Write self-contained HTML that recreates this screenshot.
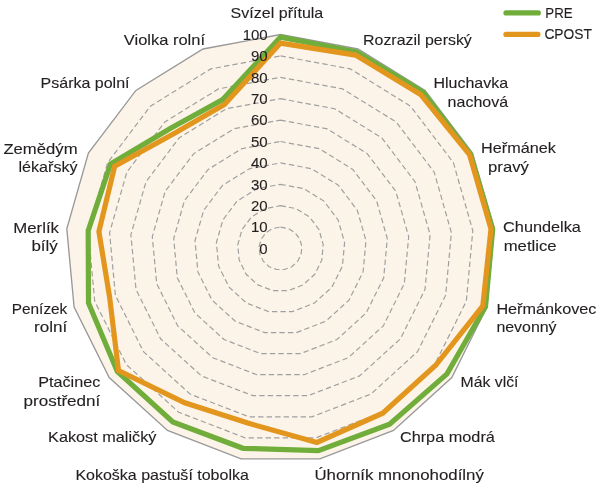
<!DOCTYPE html>
<html lang="cs">
<head>
<meta charset="utf-8">
<title>PRE / CPOST</title>
<style>
html,body{margin:0;padding:0;background:#fff;}
body{width:600px;height:489px;overflow:hidden;}
svg{display:block;}
text{font-family:"Liberation Sans",sans-serif;font-size:15px;fill:#231f20;stroke:#231f20;stroke-width:0.12px;}
</style>
</head>
<body>
<svg width="600" height="489" viewBox="0 0 600 489">
<rect width="600" height="489" fill="#ffffff"/>
<polygon points="280.5,34.5 358.0,49.0 425.1,90.4 472.6,153.1 494.2,228.8 486.9,307.1 451.8,377.5 393.5,430.4 319.9,458.9 241.1,458.9 167.5,430.4 109.2,377.5 74.1,307.1 66.8,228.8 88.4,153.1 135.9,90.4 203.0,49.0" fill="#fcf4e8" stroke="#999999" stroke-width="1.35" stroke-linejoin="miter"/>
<polygon points="280.5,227.1 288.3,228.5 295.0,232.7 299.7,239.0 301.9,246.5 301.1,254.4 297.6,261.4 291.8,266.7 284.4,269.5 276.6,269.5 269.2,266.7 263.4,261.4 259.9,254.4 259.1,246.5 261.3,239.0 266.0,232.7 272.7,228.5" fill="none" stroke="#a0a0a0" stroke-width="1.2" stroke-dasharray="5.4 3.1"/>
<polygon points="280.5,205.7 296.0,208.6 309.4,216.9 318.9,229.4 323.2,244.6 321.8,260.2 314.8,274.3 303.1,284.9 288.4,290.6 272.6,290.6 257.9,284.9 246.2,274.3 239.2,260.2 237.8,244.6 242.1,229.4 251.6,216.9 265.0,208.6" fill="none" stroke="#a0a0a0" stroke-width="1.2" stroke-dasharray="5.4 3.1"/>
<polygon points="280.5,184.3 303.8,188.6 323.9,201.1 338.1,219.9 344.6,242.6 342.4,266.1 331.9,287.2 314.4,303.1 292.3,311.6 268.7,311.6 246.6,303.1 229.1,287.2 218.6,266.1 216.4,242.6 222.9,219.9 237.1,201.1 257.2,188.6" fill="none" stroke="#a0a0a0" stroke-width="1.2" stroke-dasharray="5.4 3.1"/>
<polygon points="280.5,162.9 311.5,168.7 338.3,185.2 357.3,210.3 366.0,240.6 363.1,271.9 349.0,300.1 325.7,321.3 296.3,332.6 264.7,332.6 235.3,321.3 212.0,300.1 197.9,271.9 195.0,240.6 203.7,210.3 222.7,185.2 249.5,168.7" fill="none" stroke="#a0a0a0" stroke-width="1.2" stroke-dasharray="5.4 3.1"/>
<polygon points="280.5,141.5 319.3,148.7 352.8,169.4 376.6,200.8 387.3,238.6 383.7,277.8 366.1,313.0 337.0,339.5 300.2,353.7 260.8,353.7 224.0,339.5 194.9,313.0 177.3,277.8 173.7,238.6 184.4,200.8 208.2,169.4 241.7,148.7" fill="none" stroke="#a0a0a0" stroke-width="1.2" stroke-dasharray="5.4 3.1"/>
<polygon points="280.5,120.1 327.0,128.8 367.2,153.6 395.8,191.3 408.7,236.7 404.3,283.6 383.3,325.9 348.3,357.7 304.2,374.7 256.8,374.7 212.7,357.7 177.7,325.9 156.7,283.6 152.3,236.7 165.2,191.3 193.8,153.6 234.0,128.8" fill="none" stroke="#a0a0a0" stroke-width="1.2" stroke-dasharray="5.4 3.1"/>
<polygon points="280.5,98.7 334.8,108.8 381.7,137.8 415.0,181.7 430.1,234.7 425.0,289.5 400.4,338.8 359.6,375.9 308.1,395.7 252.9,395.7 201.4,375.9 160.6,338.8 136.0,289.5 130.9,234.7 146.0,181.7 179.3,137.8 226.2,108.8" fill="none" stroke="#a0a0a0" stroke-width="1.2" stroke-dasharray="5.4 3.1"/>
<polygon points="280.5,77.3 342.5,88.9 396.2,122.0 434.2,172.2 451.4,232.7 445.6,295.4 417.5,351.7 370.9,394.1 312.0,416.8 249.0,416.8 190.1,394.1 143.5,351.7 115.4,295.4 109.6,232.7 126.8,172.2 164.8,122.0 218.5,88.9" fill="none" stroke="#a0a0a0" stroke-width="1.2" stroke-dasharray="5.4 3.1"/>
<polygon points="280.5,55.9 350.3,68.9 410.6,106.2 453.4,162.7 472.8,230.7 466.3,301.2 434.6,364.6 382.2,412.3 316.0,437.8 245.0,437.8 178.8,412.3 126.4,364.6 94.7,301.2 88.2,230.7 107.6,162.7 150.4,106.2 210.7,68.9" fill="none" stroke="#a0a0a0" stroke-width="1.2" stroke-dasharray="5.4 3.1"/>
<polygon points="280.5,37.1 356.9,51.9 423.3,92.2 470.3,154.3 492.7,228.9 485.5,306.7 447.0,373.9 389.6,424.3 318.4,450.7 243.0,448.3 172.8,421.9 117.3,371.4 88.5,303.0 88.2,230.7 110.5,164.1 170.6,128.3 222.7,99.6" fill="none" stroke="#70ad3b" stroke-width="5.2" stroke-linejoin="miter"/>
<polygon points="280.5,43.1 355.6,55.1 421.0,94.8 469.5,154.6 491.0,229.1 482.8,305.9 435.7,365.3 382.7,413.2 316.9,442.4 247.8,423.1 184.7,402.8 118.5,370.5 109.6,297.0 98.9,231.7 114.7,166.2 175.0,133.1 224.5,104.4" fill="none" stroke="#e2961e" stroke-width="5.2" stroke-linejoin="miter"/>
<g text-anchor="end" style="font-size:16.2px">
<text x="267.7" y="253.8">0</text>
<text x="267.7" y="232.4">10</text>
<text x="267.7" y="211.0">20</text>
<text x="267.7" y="189.6">30</text>
<text x="267.7" y="168.2">40</text>
<text x="267.7" y="146.8">50</text>
<text x="267.7" y="125.4">60</text>
<text x="267.7" y="104.0">70</text>
<text x="267.7" y="82.6">80</text>
<text x="267.7" y="61.2">90</text>
<text x="267.7" y="39.8">100</text>
</g>
<text x="230.6" y="17.5" textLength="92.7" lengthAdjust="spacingAndGlyphs">Svízel přítula</text>
<text x="363.1" y="45.0" textLength="108.7" lengthAdjust="spacingAndGlyphs">Rozrazil perský</text>
<text x="433.4" y="88.2" textLength="74.7" lengthAdjust="spacingAndGlyphs">Hluchavka</text>
<text x="447.6" y="107.0" textLength="60.5" lengthAdjust="spacingAndGlyphs">nachová</text>
<text x="481.1" y="153.0" textLength="74.8" lengthAdjust="spacingAndGlyphs">Heřmánek</text>
<text x="488.1" y="172.0" textLength="40.8" lengthAdjust="spacingAndGlyphs">pravý</text>
<text x="503.1" y="232.4" textLength="77.8" lengthAdjust="spacingAndGlyphs">Chundelka</text>
<text x="503.7" y="251.2" textLength="52.9" lengthAdjust="spacingAndGlyphs">metlice</text>
<text x="496.4" y="313.5" textLength="100.0" lengthAdjust="spacingAndGlyphs">Heřmánkovec</text>
<text x="496.4" y="332.2" textLength="60.2" lengthAdjust="spacingAndGlyphs">nevonný</text>
<text x="460.6" y="386.5" textLength="57.9" lengthAdjust="spacingAndGlyphs">Mák vlčí</text>
<text x="399.9" y="442.0" textLength="95.0" lengthAdjust="spacingAndGlyphs">Chrpa modrá</text>
<text x="314.4" y="479.9" textLength="169.5" lengthAdjust="spacingAndGlyphs">Úhorník mnonohodílný</text>
<text x="75.4" y="479.9" textLength="173.5" lengthAdjust="spacingAndGlyphs">Kokoška pastuší tobolka</text>
<text x="48.1" y="442.0" textLength="108.3" lengthAdjust="spacingAndGlyphs">Kakost maličký</text>
<text x="38.2" y="386.9" textLength="62.1" lengthAdjust="spacingAndGlyphs">Ptačinec</text>
<text x="23.5" y="405.9" textLength="76.8" lengthAdjust="spacingAndGlyphs">prostřední</text>
<text x="11.8" y="314.0" textLength="55.5" lengthAdjust="spacingAndGlyphs">Penízek</text>
<text x="34.1" y="332.4" textLength="33.2" lengthAdjust="spacingAndGlyphs">rolní</text>
<text x="13.3" y="232.6" textLength="45.7" lengthAdjust="spacingAndGlyphs">Merlík</text>
<text x="31.4" y="251.2" textLength="26.4" lengthAdjust="spacingAndGlyphs">bílý</text>
<text x="3.4" y="153.5" textLength="74.2" lengthAdjust="spacingAndGlyphs">Zemědým</text>
<text x="18.5" y="172.1" textLength="59.1" lengthAdjust="spacingAndGlyphs">lékařský</text>
<text x="40.6" y="87.9" textLength="88.9" lengthAdjust="spacingAndGlyphs">Psárka polní</text>
<text x="123.8" y="45.4" textLength="81.2" lengthAdjust="spacingAndGlyphs">Violka rolní</text>
<text x="545.3" y="17.8" textLength="27.3" lengthAdjust="spacingAndGlyphs" style="font-size:15.4px">PRE</text>
<text x="544.4" y="39.3" textLength="47.6" lengthAdjust="spacingAndGlyphs" style="font-size:15.4px">CPOST</text>
<line x1="505.9" y1="12.9" x2="538.4" y2="12.9" stroke="#70ad3b" stroke-width="5.1" stroke-linecap="round"/>
<line x1="505.9" y1="34.4" x2="538.0" y2="34.4" stroke="#e2961e" stroke-width="5.1" stroke-linecap="round"/>
</svg>
</body>
</html>
